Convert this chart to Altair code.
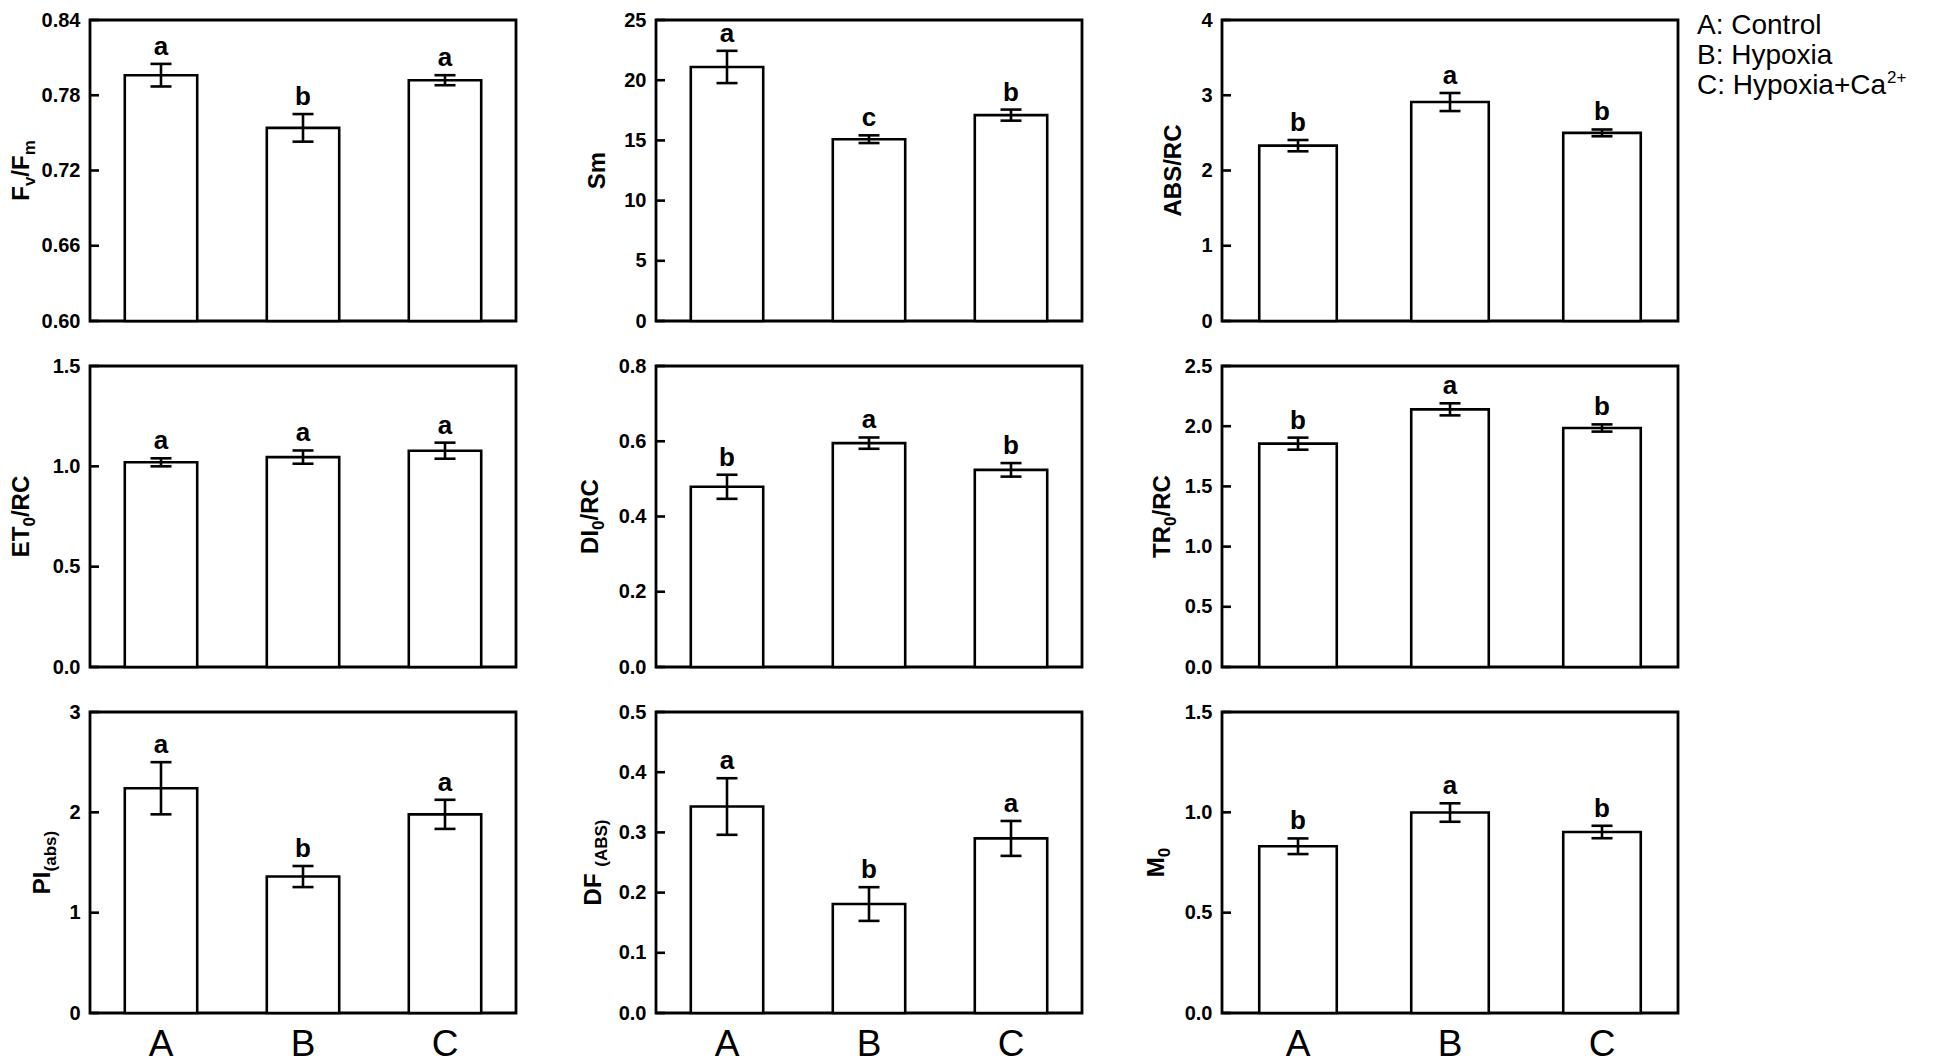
import altair as alt
import pandas as pd

# ---------------- data ----------------
groups = ["A", "B", "C"]

fvfm_mean = [0.796, 0.754, 0.792]
fvfm_err = [0.009, 0.011, 0.004]
fvfm_sig = ["a", "b", "a"]
fvfm_ticks = [0.60, 0.66, 0.72, 0.78, 0.84]

sm_mean = [21.1, 15.1, 17.1]
sm_err = [1.34, 0.32, 0.46]
sm_sig = ["a", "c", "b"]
sm_ticks = [0, 5, 10, 15, 20, 25]

absrc_mean = [2.33, 2.91, 2.50]
absrc_err = [0.075, 0.12, 0.045]
absrc_sig = ["b", "a", "b"]
absrc_ticks = [0, 1, 2, 3, 4]

etrc_mean = [1.02, 1.046, 1.078]
etrc_err = [0.02, 0.033, 0.04]
etrc_sig = ["a", "a", "a"]
etrc_ticks = [0.0, 0.5, 1.0, 1.5]

dirc_mean = [0.479, 0.595, 0.524]
dirc_err = [0.032, 0.015, 0.018]
dirc_sig = ["b", "a", "b"]
dirc_ticks = [0.0, 0.2, 0.4, 0.6, 0.8]

trrc_mean = [1.855, 2.14, 1.985]
trrc_err = [0.05, 0.05, 0.03]
trrc_sig = ["b", "a", "b"]
trrc_ticks = [0.0, 0.5, 1.0, 1.5, 2.0, 2.5]

piabs_mean = [2.24, 1.36, 1.98]
piabs_err = [0.26, 0.105, 0.145]
piabs_sig = ["a", "b", "a"]
piabs_ticks = [0, 1, 2, 3]

dfabs_mean = [0.343, 0.181, 0.290]
dfabs_err = [0.047, 0.028, 0.029]
dfabs_sig = ["a", "b", "a"]
dfabs_ticks = [0.0, 0.1, 0.2, 0.3, 0.4, 0.5]

m0_mean = [0.831, 0.999, 0.902]
m0_err = [0.039, 0.046, 0.031]
m0_sig = ["b", "a", "b"]
m0_ticks = [0.0, 0.5, 1.0, 1.5]

legend_lines = ["A: Control", "B: Hypoxia", "C: Hypoxia+Ca"]
legend_sup = "2+"

# ---------------- styling helpers ----------------
FONT = "Liberation Sans"
LW = 2.6
FRAME_W = 2.8
H = 301
W12 = 426
W3 = 456

BOLD = {" ": 278, "(": 333, ")": 333, "/": 278, "0": 556, "A": 722, "B": 722,
        "C": 722, "D": 722, "E": 667, "F": 611, "I": 278, "M": 833, "P": 667,
        "R": 722, "S": 667, "T": 611, "a": 556, "b": 611, "m": 889, "s": 556,
        "v": 556}
REG = {" ": 278, ":": 278, "+": 584, "2": 556, "A": 667, "B": 667, "C": 722,
       "H": 722, "a": 556, "i": 222, "l": 222, "n": 556, "o": 556, "p": 556,
       "r": 333, "t": 278, "x": 500, "y": 500}


def text_w(s, size, bold):
    tbl = BOLD if bold else REG
    return sum(tbl.get(c, 556) for c in s) * size / 1000.0


def panel(mean, err, sig, ticks, fmt, title_parts, title_x, width, show_x, legend=False):
    lo = [m - e for m, e in zip(mean, err)]
    hi = [m + e for m, e in zip(mean, err)]
    base = [ticks[0]] * len(groups)
    df = pd.DataFrame({"g": groups, "mean": mean, "lo": lo, "hi": hi,
                       "sig": sig, "base": base})
    if show_x:
        xaxis = alt.Axis(labelFont=FONT, labelFontSize=37, labelFontWeight="normal",
                         labelColor="black", labelAngle=0, labelPadding=13,
                         ticks=False, tickSize=0, domain=False, grid=False, title=None)
    else:
        xaxis = None
    xenc = alt.X("g:N", scale=alt.Scale(domain=groups, paddingInner=0.49, paddingOuter=0.245),
                 axis=xaxis, title=None)
    yscale = alt.Scale(domain=[ticks[0], ticks[-1]], nice=False, zero=False)
    yaxis = alt.Axis(values=ticks, format=fmt, labelFont=FONT, labelFontSize=20,
                     labelFontWeight="bold", labelColor="black", labelPadding=10,
                     ticks=False, tickSize=0, domain=False, grid=False, title=None,
                     labelOverlap=False, labelFlush=False)

    def Y(f):
        return alt.Y(f, scale=yscale, axis=yaxis, title=None)

    bars = alt.Chart(df).mark_bar(fill="white", stroke="black", strokeWidth=LW,
                                  fillOpacity=1).encode(
        x=xenc, y=Y("mean:Q"), y2=alt.Y2("base:Q", title=None))
    rule = alt.Chart(df).mark_rule(color="black", strokeWidth=LW).encode(
        x=xenc, y=Y("lo:Q"), y2=alt.Y2("hi:Q", title=None))
    cap_lo = alt.Chart(df).mark_tick(orient="horizontal", size=21, thickness=LW,
                                     color="black", opacity=1).encode(x=xenc, y=Y("lo:Q"))
    cap_hi = alt.Chart(df).mark_tick(orient="horizontal", size=21, thickness=LW,
                                     color="black", opacity=1).encode(x=xenc, y=Y("hi:Q"))
    letters = alt.Chart(df).mark_text(baseline="alphabetic", dy=-9, font=FONT, fontSize=26,
                                      fontWeight="bold", color="black").encode(
        x=xenc, y=Y("hi:Q"), text="sig:N")
    tdf = pd.DataFrame({"t": ticks})
    inticks = alt.Chart(tdf).mark_tick(orient="horizontal", size=9, thickness=LW,
                                       color="black", opacity=1).encode(
        x=alt.value(4.5), y=Y("t:Q"))

    layers = [bars, rule, cap_lo, cap_hi, letters, inticks]

    # rotated y-axis title with subscripts
    main_size, sub_size, sub_dy = 24, 17, 6
    total = sum(text_w(t, sub_size if s else main_size, True) for t, s in title_parts)
    y0 = H / 2 + total / 2
    off = 0.0
    for t, s in title_parts:
        size = sub_size if s else main_size
        layers.append(
            alt.Chart(pd.DataFrame({"t": [t]})).mark_text(
                angle=270, align="left", baseline="alphabetic", font=FONT,
                fontSize=size, fontWeight="bold", color="black", dx=off,
                dy=sub_dy if s else 0).encode(
                x=alt.value(title_x), y=alt.value(y0), text="t:N"))
        off += text_w(t, size, True)

    if legend:
        lx = width + 19
        lsize = 28
        ys = [14, 44, 74]
        for line, yy in zip(legend_lines, ys):
            layers.append(
                alt.Chart(pd.DataFrame({"t": [line]})).mark_text(
                    align="left", baseline="alphabetic", font=FONT, fontSize=lsize,
                    color="black").encode(x=alt.value(lx), y=alt.value(yy), text="t:N"))
        layers.append(
            alt.Chart(pd.DataFrame({"t": [legend_sup]})).mark_text(
                align="left", baseline="alphabetic", font=FONT, fontSize=17,
                color="black", dx=text_w(legend_lines[-1], lsize, False) + 1,
                dy=-11).encode(x=alt.value(lx), y=alt.value(ys[-1]), text="t:N"))

    return alt.layer(*layers).properties(width=width, height=H)


p1 = panel(fvfm_mean, fvfm_err, fvfm_sig, fvfm_ticks, ".2f",
           [("F", 0), ("v", 1), ("/F", 0), ("m", 1)], -61, W12, False)
p2 = panel(sm_mean, sm_err, sm_sig, sm_ticks, "d", [("Sm", 0)], -51, W12, False)
p3 = panel(absrc_mean, absrc_err, absrc_sig, absrc_ticks, "d", [("ABS/RC", 0)], -41, W3,
           False, legend=True)
p4 = panel(etrc_mean, etrc_err, etrc_sig, etrc_ticks, ".1f",
           [("ET", 0), ("0", 1), ("/RC", 0)], -61, W12, False)
p5 = panel(dirc_mean, dirc_err, dirc_sig, dirc_ticks, ".1f",
           [("DI", 0), ("0", 1), ("/RC", 0)], -58, W12, False)
p6 = panel(trrc_mean, trrc_err, trrc_sig, trrc_ticks, ".1f",
           [("TR", 0), ("0", 1), ("/RC", 0)], -52, W3, False)
p7 = panel(piabs_mean, piabs_err, piabs_sig, piabs_ticks, "d",
           [("PI", 0), ("(abs)", 1)], -40, W12, True)
p8 = panel(dfabs_mean, dfabs_err, dfabs_sig, dfabs_ticks, ".1f",
           [("DF ", 0), ("(ABS)", 1)], -55, W12, True)
p9 = panel(m0_mean, m0_err, m0_sig, m0_ticks, ".1f",
           [("M", 0), ("0", 1)], -58, W3, True)

chart = alt.concat(p1, p2, p3, p4, p5, p6, p7, p8, p9, columns=3,
                   spacing={"row": 45, "column": 140}, bounds="flush",
                   align="each").properties(
    padding=0, background="white"
).configure(font=FONT).configure_view(stroke="black", strokeWidth=FRAME_W)

chart.save("out.html", embed_options={"renderer": "svg", "actions": False})
